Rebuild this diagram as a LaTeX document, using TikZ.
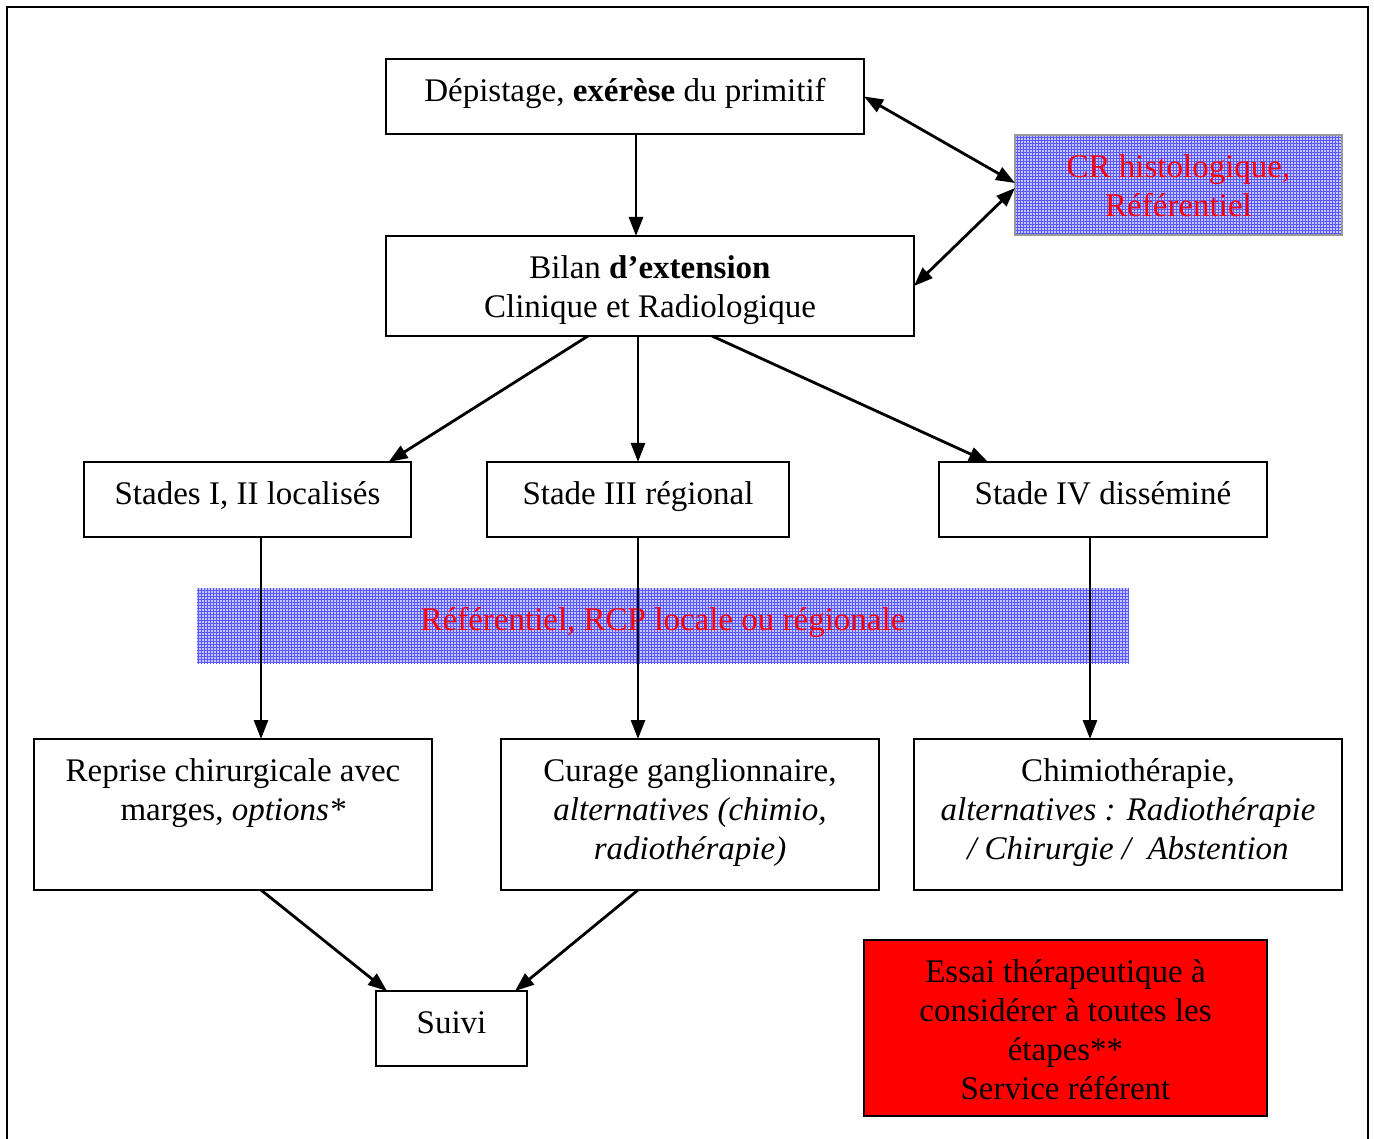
\documentclass[tikz,border=0pt]{standalone}
\usepackage{fontspec}
\setmainfont{Liberation Serif}
\usetikzlibrary{arrows.meta,patterns}
\newcommand\bxt[3]{\begin{minipage}[c][#2][t]{#1}\centering\vspace*{15.5pt}\strut#3\end{minipage}}
\begin{document}
\begin{tikzpicture}[x=1pt,y=-1pt,
  every node/.style={inner sep=0pt,outer sep=0pt,font=\fontsize{33}{39}\selectfont},
  box/.style={draw=black,line width=2.3pt,fill=white},
  blueband/.style={preaction={fill=blue!22},pattern=grid,pattern color=blue!65},
  arr/.style={line width=2.8pt,-{Triangle[length=19pt,width=14pt]}},
  darr/.style={line width=2.8pt,{Triangle[length=19pt,width=14pt]}-{Triangle[length=19pt,width=14pt]}}]
\useasboundingbox (0,0) rectangle (1374,1139);
\fill[white] (0,0) rectangle (1374,1139);
\draw[line width=2.3pt] (7,1160) -- (7,7) -- (1368,7) -- (1368,1160);

% blue band behind the vertical arrows
\node[blueband] (band) at (663,625.5) {\bxt{932pt}{75pt}{\textcolor{red}{Référentiel, RCP locale ou régionale}}};

\node[box] (dep) at (625,96.5) {\bxt{478pt}{75pt}{Dépistage, \textbf{exérèse} du primitif}};
\node[box] (bilan) at (650,286) {\bxt{528pt}{100pt}{Bilan \textbf{d’extension}\\Clinique et Radiologique}};
\node[blueband,draw=black!40,line width=2.3pt] (cr) at (1178.5,185) {\bxt{327pt}{100pt}{\textcolor{red}{CR histologique,\\Référentiel}}};

\node[box] (st1) at (247.5,499.5) {\bxt{327pt}{75pt}{Stades I, II localisés}};
\node[box] (st3) at (638,499.5) {\bxt{302pt}{75pt}{Stade III régional}};
\node[box] (st4) at (1103,499.5) {\bxt{328pt}{75pt}{Stade IV disséminé}};

\node[box] (rep) at (233,814.5) {\bxt{398pt}{151pt}{Reprise chirurgicale avec\\marges, \textit{options*}}};
\node[box] (cur) at (690,814.5) {\bxt{378pt}{151pt}{Curage ganglionnaire,\\\textit{alternatives (chimio,}\\\textit{radiothérapie)}}};
\node[box] (chi) at (1128,814.5) {\bxt{428pt}{151pt}{Chimiothérapie,\\\textit{alternatives : Radiothérapie}\\\textit{/ Chirurgie /\ \ Abstention}}};

\node[box] (suivi) at (451.5,1028.5) {\bxt{151pt}{75pt}{Suivi}};
\node[draw=black,line width=2.3pt,fill=red] (essai) at (1065.5,1028) {\bxt{403pt}{176pt}{Essai thérapeutique à\\considérer à toutes les\\étapes**\\Service référent}};

% connectors
\draw[arr] ([xshift=11pt]dep.south) -- ([xshift=11pt]dep.south |- bilan.north);
\draw[darr] (dep.east) -- ([yshift=2pt]cr.west);
\draw[darr] (bilan.east) -- ([yshift=-3pt]cr.west);
\draw[arr] ([xshift=-62pt]bilan.south) -- ([xshift=141pt]st1.north);
\draw[arr] (bilan.south -| st3.north) -- (st3.north);
\draw[arr] ([xshift=62pt]bilan.south) -- ([xshift=-115pt]st4.north);
\draw[arr] ([xshift=13.5pt]st1.south) -- ([xshift=13.5pt]st1.south |- rep.north);
\draw[arr] (st3.south) -- (st3.south |- cur.north);
\draw[arr] ([xshift=-13pt]st4.south) -- ([xshift=-13pt]st4.south |- chi.north);
\draw[arr] ([xshift=28pt]rep.south) -- ([xshift=-64.5pt]suivi.north);
\draw[arr] ([xshift=-52pt]cur.south) -- ([xshift=63.5pt]suivi.north);
\end{tikzpicture}
\end{document}
